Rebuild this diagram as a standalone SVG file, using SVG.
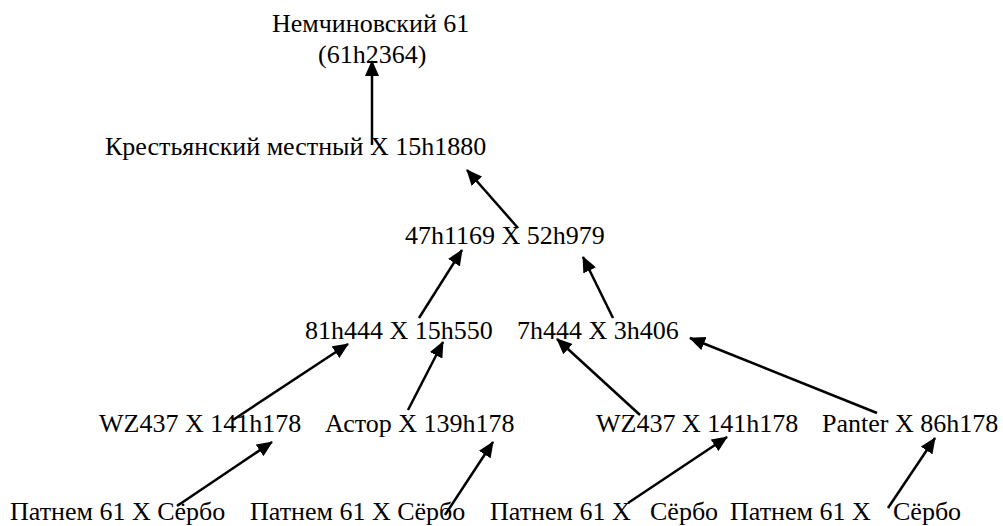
<svg xmlns="http://www.w3.org/2000/svg" width="1003" height="526" viewBox="0 0 1003 526">
<style>
text { font-family: "Liberation Serif", "Times New Roman", serif; font-size: 26px; fill: #000; }
.c line { stroke: #000; stroke-width: 2.5; marker-end: url(#ah); }
</style>
<defs>
<marker id="ah" viewBox="0 0 16 14" refX="15" refY="7" markerWidth="16" markerHeight="14" markerUnits="userSpaceOnUse" orient="auto">
<path d="M0,0 L16,7 L0,14 z" fill="#000"/>
</marker>
</defs>
<rect width="1003" height="526" fill="#fff"/>
<g id="n-root"><text x="272" y="32">Немчиновский 61</text><text x="318" y="63">(61h2364)</text></g>
<g id="n-l1"><text x="105" y="155">Крестьянский местный Х 15h1880</text></g>
<g id="n-l2"><text x="405" y="244">47h1169 X 52h979</text></g>
<g id="n-l3a"><text x="305" y="339">81h444 X 15h550</text></g>
<g id="n-l3b"><text x="517" y="339">7h444 X 3h406</text></g>
<g id="n-l4a"><text x="99" y="432">WZ437 X 141h178</text></g>
<g id="n-l4b"><text x="325" y="432">Астор Х 139h178</text></g>
<g id="n-l4c"><text x="596" y="432">WZ437 X 141h178</text></g>
<g id="n-l4d"><text x="822" y="432">Panter X 86h178</text></g>
<g id="n-l5a"><text x="10" y="520">Патнем 61 Х Сёрбо</text></g>
<g id="n-l5b"><text x="250" y="520">Патнем 61 Х Сёрбо</text></g>
<g id="n-l5c"><text x="490" y="520">Патнем 61 Х<tspan x="650">Сёрбо</tspan></text></g>
<g id="n-l5d"><text x="730" y="520">Патнем 61 Х<tspan x="893">Сёрбо</tspan></text></g>
<g id="connectors" class="c">
<line x1="372" y1="145" x2="372" y2="61"/>
<line x1="518" y1="228" x2="467" y2="170"/>
<line x1="419" y1="318" x2="462" y2="250"/>
<line x1="613" y1="318" x2="583" y2="257"/>
<line x1="233" y1="420" x2="348" y2="344"/>
<line x1="408" y1="410" x2="443" y2="342"/>
<line x1="640" y1="415" x2="557" y2="339"/>
<line x1="877" y1="413" x2="690" y2="338"/>
<line x1="177" y1="506" x2="272" y2="442"/>
<line x1="445" y1="515" x2="493" y2="442"/>
<line x1="628" y1="503" x2="727" y2="437"/>
<line x1="888" y1="508" x2="935" y2="438"/>
</g>
</svg>
